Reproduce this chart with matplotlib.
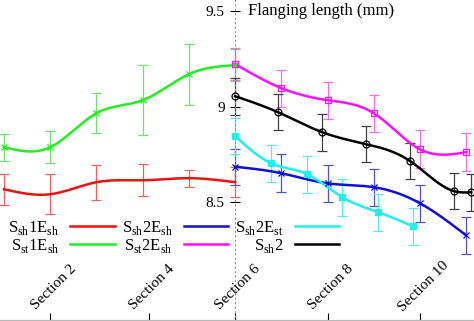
import numpy as np
import matplotlib
matplotlib.use("Agg")
import matplotlib.pyplot as plt

plt.rcParams['font.family'] = ['Liberation Serif', 'DejaVu Serif']
plt.rcParams['mathtext.fontset'] = 'custom'
plt.rcParams['mathtext.rm'] = 'Liberation Serif'

# section positions and flanging lengths (mm), with error half-widths
red_x = [1, 2, 3, 4, 5, 6]
red_y = [8.568, 8.542, 8.605, 8.615, 8.626, 8.605]
red_e = [0.081, 0.105, 0.092, 0.084, 0.045, 0.079]

green_x = [1, 2, 3, 4, 5, 6]
green_y = [8.788, 8.788, 8.966, 9.034, 9.170, 9.217]
green_e = [0.071, 0.084, 0.105, 0.183, 0.160, 0.084]

blue_x = [6, 7, 8, 9, 10, 11]
blue_y = [8.686, 8.652, 8.599, 8.579, 8.495, 8.327]
blue_e = [0.095, 0.099, 0.097, 0.097, 0.097, 0.095]

magenta_x = [6, 7, 8, 9, 10, 11]
magenta_y = [9.223, 9.097, 9.034, 8.966, 8.777, 8.762]
magenta_e = [0.084, 0.097, 0.097, 0.097, 0.100, 0.100]

cyan_x = [6.0, 6.78, 7.56, 8.32, 9.10, 9.85]
cyan_y = [8.846, 8.704, 8.647, 8.526, 8.448, 8.374]
cyan_e = [0.095, 0.097, 0.097, 0.097, 0.097, 0.097]

black_x = [6.0, 6.93, 7.88, 8.84, 9.79, 10.74, 11.11]
black_y = [9.055, 8.971, 8.867, 8.804, 8.715, 8.558, 8.552]
black_e = [0.097, 0.094, 0.097, 0.094, 0.094, 0.094, 0.097]

section_pos = [2, 4.13, 6, 8, 10]
section_labels = ['Section 2', 'Section 4', 'Section 6', 'Section 8', 'Section 10']
y_ticks = [8.5, 9, 9.5]


def spline(x, y, n=300):
    # natural cubic spline through the points (like gnuplot "smooth csplines")
    x = np.asarray(x, float)
    y = np.asarray(y, float)
    k = len(x)
    h = np.diff(x)
    A = np.zeros((k, k))
    b = np.zeros(k)
    A[0, 0] = A[-1, -1] = 1
    for i in range(1, k - 1):
        A[i, i - 1] = h[i - 1]
        A[i, i] = 2 * (h[i - 1] + h[i])
        A[i, i + 1] = h[i]
        b[i] = 6 * ((y[i + 1] - y[i]) / h[i] - (y[i] - y[i - 1]) / h[i - 1])
    M = np.linalg.solve(A, b)
    xs = np.linspace(x[0], x[-1], n)
    j = np.clip(np.searchsorted(x, xs) - 1, 0, k - 2)
    t0 = x[j + 1] - xs
    t1 = xs - x[j]
    hj = h[j]
    ys = (M[j] * t0 ** 3 / (6 * hj) + M[j + 1] * t1 ** 3 / (6 * hj)
          + (y[j] / hj - M[j] * hj / 6) * t0 + (y[j + 1] / hj - M[j + 1] * hj / 6) * t1)
    return xs, ys


fig = plt.figure(figsize=(4.74, 3.21), dpi=100)
ax = fig.add_axes([0, 0, 1, 1])

series = [
    (red_x, red_y, red_e, '#ee1111', '#f06060', 'none', r'S$_{\rm sh}$1E$_{\rm sh}$', {}),
    (green_x, green_y, green_e, '#22ee22', '#70e070', 'x', r'S$_{\rm st}$1E$_{\rm sh}$', {}),
    (blue_x, blue_y, blue_e, '#1010d0', '#5050c8', 'x', r'S$_{\rm sh}$2E$_{\rm sh}$', {}),
    (magenta_x, magenta_y, magenta_e, '#ff11ff', '#f070f0', 's', r'S$_{\rm st}$2E$_{\rm sh}$', {'mfc': 'none'}),
    (cyan_x, cyan_y, cyan_e, '#22eeee', '#60e8e8', 's', r'S$_{\rm sh}$2E$_{\rm st}$', {}),
    (black_x, black_y, black_e, '#000000', '#404040', 'o', r'S$_{\rm sh}$2', {'mfc': 'none'}),
]

for x, y, e, col, ecol, mk, lab, kw in series:
    ax.errorbar(x, y, yerr=e, fmt='none', ecolor=ecol, elinewidth=0.9, capsize=3.5, capthick=0.9, zorder=2)
    xs, ys = spline(x, y)
    ax.plot(xs, ys, color=col, lw=1.8, label=lab, zorder=3)
    ax.plot(x, y, ls='none', marker=mk, color=col, ms=5, mew=0.9, zorder=4, **kw)

ax.set_xlim(0.913, 11.17)
ax.set_ylim(7.879, 9.558)

for s in ['top', 'right']:
    ax.spines[s].set_visible(False)
ax.spines['left'].set_position(('data', 6))
ax.spines['left'].set_linestyle((0, (1, 3)))
ax.spines['left'].set_color('#9a8aa8')
ax.spines['left'].set_linewidth(0.8)
ax.spines['bottom'].set_color('#b8b8b8')
ax.spines['bottom'].set_linewidth(1.6)

ax.set_yticks(y_ticks)
ax.set_yticklabels(['8.5', '9', '9.5'])
ax.tick_params(axis='y', direction='inout', length=7, width=0.8, color='black', pad=4, labelsize=11)
ax.set_xticks(section_pos)
ax.set_xticklabels([])
ax.tick_params(axis='x', direction='in', length=6, width=0.8, color='black')

for xp, lab in zip(section_pos, section_labels):
    ax.text(xp + 0.07, 0.106, lab, rotation=45, ha='center', va='center', fontsize=11,
            transform=ax.get_xaxis_transform())

ax.annotate('Flanging length (mm)', xy=(6, 9.5), xytext=(9.5, 0), textcoords='offset points',
            ha='left', va='center', fontsize=12)

ax.legend(loc='upper left', bbox_to_anchor=(0.017, 0.318), ncol=3, markerfirst=False,
          frameon=False, fontsize=12, handlelength=2.65, handletextpad=0.68,
          columnspacing=0.42, labelspacing=0.0, borderpad=0, borderaxespad=0)

fig.savefig('out.png', dpi=100)
